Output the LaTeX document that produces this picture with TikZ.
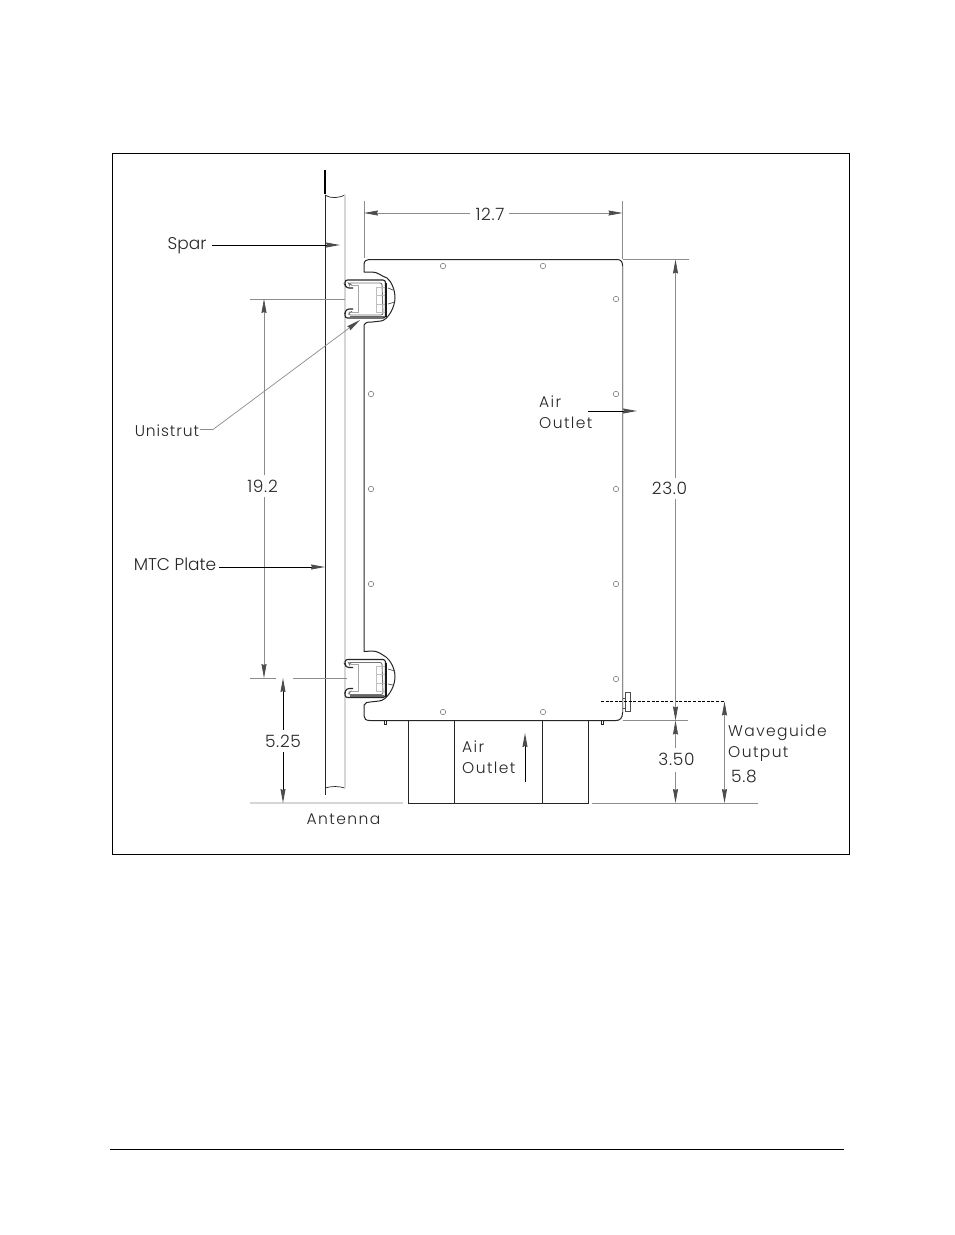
\documentclass[tikz,border=0pt]{standalone}
\usepackage{fontspec}
\setmainfont{Poppins Light}[LetterSpace=0]
\newfontface\wide{Poppins Light}[LetterSpace=9]
\newfontface\midw{Poppins Light}[LetterSpace=6]
\newfontface\tight{Poppins Light}[LetterSpace=0]
\newfontface\numf{Poppins Light}[LetterSpace=4]
\usetikzlibrary{arrows.meta}
\definecolor{dimc}{gray}{0.55}
\definecolor{lightc}{gray}{0.84}
\definecolor{headc}{gray}{0.3}
\tikzset{
  x=1pt,y=-1pt,
  part/.style={draw=black!85,line width=1pt},
  hole/.style={draw=black!50,line width=.6pt,circle,inner sep=0pt,minimum size=5.5pt},
  dimline/.style={draw=dimc,line width=.7pt},
  extline/.style={draw=dimc,line width=.7pt},
  pale/.style={draw=lightc,line width=1.6pt},
  blackdim/.style={draw=black,line width=1pt},
  tipped/.style={arrows={-Stealth[length=14pt,width=5pt,inset=1pt,fill=headc,color=headc]}},
  tippedboth/.style={arrows={Stealth[length=14pt,width=5pt,inset=1pt,fill=headc,color=headc]-Stealth[length=14pt,width=5pt,inset=1pt,fill=headc,color=headc]}},
  lbl/.style={inner sep=0pt,font=\tight\fontsize{17}{18}\selectfont,text=black!85},
  slbl/.style={inner sep=0pt,font=\wide\fontsize{15.5}{18}\selectfont,text=black!85},
  ulbl/.style={inner sep=0pt,font=\midw\fontsize{15.5}{18}\selectfont,text=black!85},
  num/.style={inner sep=0pt,font=\numf\fontsize{17}{18}\selectfont,text=black!85},
  mount/.pic={
    \draw[draw=black!85,line width=1.1pt,rounded corners=2.5pt]
      (353,8)--(346.5,8)--(345,5)--(345,0)--(385.5,0)--(385.5,38)--(345,38)--(345,33)--(346.5,29)--(353,29);
    \draw[draw=black!55,line width=.9pt,rounded corners=2pt]
      (352,5)--(349.5,5)--(348.5,3)--(382,3)--(383,35)--(348.5,35)--(349.5,31.5)--(352,31.5);
    \draw[draw=black!35,line width=.6pt] (351,5)--(358,5)--(358,32)--(351,32);
    \draw[draw=black!25,line width=.6pt] (376,7) rectangle (385,32) (376,15)--(385,15) (376,24)--(385,24);
    \draw[draw=black!90,line width=2pt] (385.5,3)--(385.5,37);
    \draw[draw=black!60,line width=1.4pt] (350,36.5)--(384,36.5);
  }
}
\begin{document}
\begin{tikzpicture}
\useasboundingbox (0,0) rectangle (954,1235);
\fill[white] (0,0) rectangle (954,1235);
\node[draw=black,line width=.9pt,minimum width=737pt,minimum height=701pt,inner sep=0pt,anchor=north west] (frame) at (112,153) {};
\coordinate (fl) at (110,1149); \coordinate (fr) at (844,1149);
\draw[black,line width=.9pt] (fl)--(fr);

% spar and plate
\draw[black,line width=1.8pt] (325,170)--(325,194);
\draw[part] (325,195)--(325,795);
\draw[part,line width=.7pt] (325,195) .. controls (332,199) and (338,198) .. (345,195);
\draw[part,line width=.7pt] (325,788) .. controls (332,786) and (338,786) .. (345,788);
\draw[pale] (345,195)--(345,788);

% chassis
\draw[part,line join=round] (364,272)--(364,265) .. controls (364,261) and (366,259.5) .. (369,259.5)
 --(617,259.5) .. controls (620.5,259.5) and (622.5,261.5) .. (622.5,265)
 --(622.5,713) .. controls (622.5,718) and (620,720.5) .. (616,720.5)
 --(370,720.5) .. controls (366,720.5) and (364,719) .. (364,716)--(364,705)
 .. controls (365,702.5) and (368,702) .. (370,702)
 --(379,701) .. controls (386,701) and (395,688) .. (395,677)
 .. controls (395,668) and (390,660) .. (386,657)
 .. controls (381,654) and (378,651) .. (372,651)--(364,651.5)--(364,325)
 .. controls (366,322) and (368,322) .. (372,322)
 --(381,321) .. controls (388,320) and (395,307) .. (395,298)
 .. controls (395,289) and (391,281) .. (387,278)
 .. controls (381,276) and (378,272) .. (372,272)--cycle;
\draw[draw=black!45,line width=1.5pt] (622.5,266)--(622.5,712);
\draw[draw=black!70,line width=.7pt] (388,669)--(395,671) (388,684)--(393,685) (388,288)--(393,290) (388,304)--(395,302);
\pic at (0,280) {mount};
\pic at (0,659.5) {mount};
\draw[part] (384.5,720.5) rectangle (386.5,724) (601,720.5) rectangle (603,724);

\foreach \n/\hx/\hy in {h1/443/266,h2/543/266,h3/616/299,h4/616/394,h5/616/489,h6/616/584,h7/616/679,h8/371/394,h9/371/489,h10/371/584,h11/443/712,h12/543/712}
  \node[hole] (\n) at (\hx,\hy) {};

% lower duct
\draw[part] (408,720.5)--(408,803)--(588.5,803)--(588.5,720.5) (454.5,720.5)--(454.5,803) (542,720.5)--(542,803);

% waveguide flange
\draw[draw=black!70,line width=.8pt] (625.5,692) rectangle (630,711.5) (622.5,698)--(625.5,698) (622.5,708)--(625.5,708);
\coordinate (dashA) at (601,701.5); \coordinate (dashB) at (724.5,701.5);
\draw[black,line width=1.1pt,dash pattern=on 3pt off 1.6pt] (dashA)--(dashB);

% extension lines
\draw[extline] (364,201)--(364,258) (622.5,201)--(622.5,259);
\draw[extline] (622.5,259.5)--(689,259.5) (622.5,720.5)--(688,720.5);
\draw[extline] (250,299)--(345,299);
\draw[extline] (250,678)--(276,678) (293,678)--(347,678);
\draw[pale,line width=1.4pt] (250,803)--(403,803);
\draw[extline] (592,803.5)--(758,803.5);

% dimension 12.7
\node[num] (d127) at (490,214.5) {12.7};
\coordinate (a127) at (364,213); \coordinate (b127) at (622.5,213);
\draw[dimline,tipped] (470,213) -- (a127);
\draw[dimline,tipped] (509,213) -- (b127);

% dimension 23.0
\node[num] (d230) at (669.5,488.5) {23.0};
\coordinate (a230) at (675.5,259.5); \coordinate (b230) at (675.5,720.5);
\draw[dimline,tipped] (675.5,478) -- (a230);
\draw[dimline,tipped] (675.5,499) -- (b230);

% dimension 3.50
\node[num] (d350) at (676.5,759.5) {3.50};
\coordinate (a350) at (675.5,720.5); \coordinate (b350) at (675.5,803);
\draw[dimline,tipped] (675.5,748) -- (a350);
\draw[dimline,tipped] (675.5,772) -- (b350);

% dimension 5.8
\draw[dimline,tippedboth] (dashB) -- (724.5,803);

% dimension 19.2
\node[num] (d192) at (262.5,486) {19.2};
\coordinate (a192) at (264,299); \coordinate (b192) at (264,678);
\draw[dimline,tipped] (264,475) -- (a192);
\draw[dimline,tipped] (264,497) -- (b192);

% dimension 5.25
\node[num] (d525) at (283,741) {5.25};
\coordinate (a525) at (283,678); \coordinate (b525) at (283,803);
\draw[blackdim,tipped] (283,730) -- (a525);
\draw[blackdim,tipped] (283,752) -- (b525);

% labels
\node[lbl] (spar) at (187,246) {Spar};
\coordinate (sparT) at (340,245);
\draw[blackdim,tipped] (212,245) -- (sparT);
\node[lbl] (mtc) at (175,564) {MTC Plate};
\coordinate (mtcT) at (325,567);
\draw[blackdim,tipped] (219,567) -- (mtcT);
\node[ulbl] (uni) at (167,430.5) {Unistrut};
\coordinate (uniT) at (360,320);
\draw[dimline,tipped] (200,429.5)--(213,429.5) -- (uniT);
\node[slbl,anchor=west] (air1a) at (539,402) {Air};
\node[slbl,anchor=west] (air1b) at (539,423) {Outlet};
\coordinate (air1T) at (637,411);
\draw[blackdim,tipped] (588,411) -- (air1T);
\node[slbl,anchor=west] (air2a) at (462,747) {Air};
\node[slbl,anchor=west] (air2b) at (462,768) {Outlet};
\coordinate (air2S) at (525,782); \coordinate (air2T) at (525,733);
\draw[blackdim,tipped] (air2S) -- (air2T);
\node[slbl,anchor=west] (wg1) at (728,733) {Waveguide};
\node[slbl,anchor=west] (wg2) at (728,754) {Output};
\node[num] (d58) at (744,776) {5.8};
\node[slbl] (ant) at (343.5,819) {Antenna};
\end{tikzpicture}
\end{document}
